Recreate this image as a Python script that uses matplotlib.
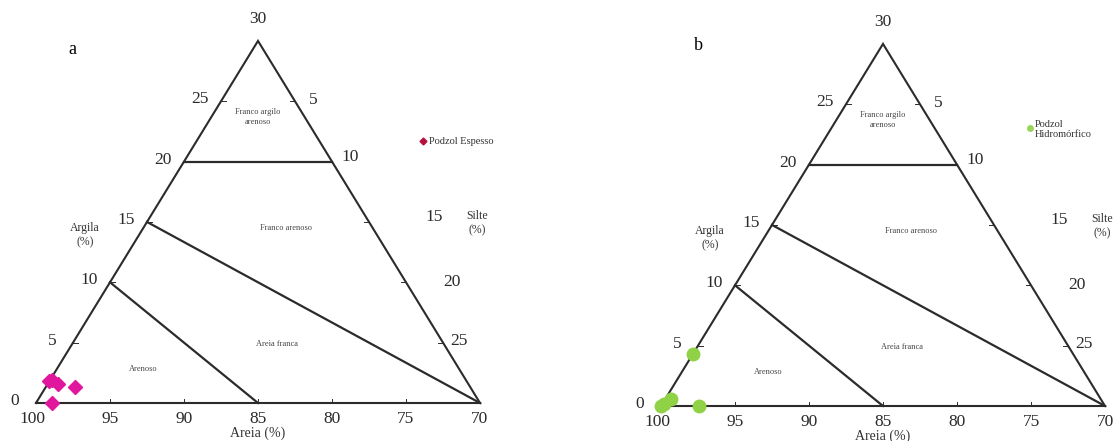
import matplotlib
matplotlib.use("Agg")
import matplotlib.pyplot as plt

plt.rcParams['font.family'] = ['Liberation Serif', 'DejaVu Serif']

# Texture triangle (sand 70-100 %, clay 0-30 %, silt 0-30 %)
clay_ticks = [0, 5, 10, 15, 20, 25, 30]
sand_ticks = [100, 95, 90, 85, 80, 75, 70]
silt_ticks = [5, 10, 15, 20, 25]

# Samples: clay (%) and silt (%); sand = 100 - clay - silt
espesso_clay = [1.8, 1.9, 1.6, 1.3, 0.0]
espesso_silt = [0.0, 0.1, 0.7, 2.0, 1.1]

hidro_clay = [4.3, 0.6, 0.2, 0.0, 0.0]
hidro_silt = [0.0, 0.4, 0.1, 0.0, 2.6]

region_names = ["Franco argilo\narenoso", "Franco arenoso", "Areia franca", "Arenoso"]


def tern(clay, silt):
    """Cartesian coordinates of a (clay, silt) pair inside the triangle."""
    if hasattr(clay, "__len__"):
        return ([s + c / 2 for c, s in zip(clay, silt)], list(clay))
    return silt + clay / 2, clay


LINE = "#2b2b2b"
TXT = "#2a2a2a"
PXX, PXY = 14.8, 12.07  # pixels per percent along x and y


def draw_panel(ax, clay, silt, color, marker, ms):
    # outer triangle
    xs, ys = tern([0, 0, 30, 0], [0, 30, 0, 0])
    ax.plot(xs, ys, color=LINE, lw=1.5, solid_joinstyle="miter")
    # class boundaries
    for (c0, s0), (c1, s1) in [((20, 0), (20, 10)), ((15, 0), (0, 30)), ((10, 0), (0, 15))]:
        x0, y0 = tern(c0, s0)
        x1, y1 = tern(c1, s1)
        ax.plot([x0, x1], [y0, y1], color=LINE, lw=1.6)

    dx, dy = 1 / PXX, 1 / PXY
    # clay axis (left edge)
    for c in clay_ticks:
        x, y = tern(c, 0)
        if 0 < c < 30:
            ax.plot([x, x + 5 * dx], [y, y], color=LINE, lw=0.7)
        if c == 30:
            ax.text(x, y + 22 * dy, str(c), ha="center", va="center", fontsize=12.5, color=TXT)
        else:
            ax.text(x - 21 * dx, y + 2 * dy, str(c), ha="center", va="center", fontsize=12.5, color=TXT)
    # sand axis (bottom edge)
    for sd in sand_ticks:
        x, y = tern(0, 100 - sd)
        if 70 < sd < 100:
            ax.plot([x, x], [y, y + 4 * dy], color=LINE, lw=0.7)
        off = -4 * dx if sd == 100 else 0
        ax.text(x + off, y - 16 * dy, str(sd), ha="center", va="center", fontsize=12.5, color=TXT)
    # silt axis (right edge)
    silt_label_pos = {5: (18.7, 25.1), 10: (21.2, 20.4), 15: (26.9, 15.4),
                      20: (28.1, 10.0), 25: (28.6, 5.1)}
    for s in silt_ticks:
        x, y = tern(30 - s, s)
        ax.plot([x, x - 5 * dx], [y, y], color=LINE, lw=0.7)
        lx, ly = silt_label_pos[s]
        ax.text(lx, ly, str(s), ha="center", va="center", fontsize=12.5, color=TXT)

    ax.text(3.3, 13.9, "Argila\n(%)", ha="center", va="center", fontsize=8.5,
            color="#333", linespacing=1.3)
    ax.text(29.8, 14.9, "Silte\n(%)", ha="center", va="center", fontsize=8.5,
            color="#333", linespacing=1.3)
    ax.text(15.0, -2.5, "Areia (%)", ha="center", va="center", fontsize=10, color="#333")

    region_pos = [(15.0, 23.7), (16.9, 14.5), (16.3, 4.9), (7.25, 2.8)]
    for name, (x, y) in zip(region_names, region_pos):
        ax.text(x, y, name, ha="center", va="center", fontsize=6, color="#444", linespacing=1.2)

    px, py = tern(clay, silt)
    ax.plot(px, py, linestyle="none", marker=marker, ms=ms, color=color, mec=color, zorder=5)

    return dx, dy


fig = plt.figure(figsize=(11.19, 4.41), dpi=100)
fig.patch.set_facecolor("white")

# left panel: triangle origin at pixel (36, 403)
axl = fig.add_axes([0, 0, 559 / 1119, 1])
axl.set_xlim(-36 / PXX, (559 - 36) / PXX)
axl.set_ylim((403 - 441) / PXY, 403 / PXY)
axl.axis("off")
dx, dy = draw_panel(axl, espesso_clay, espesso_silt, "#e0169c", "D", 7.5)
axl.text((72 - 36) / PXX, (403 - 50) / PXY, "a", ha="center", va="center", fontsize=13)
lx, ly = (423 - 36) / PXX, (403 - 141) / PXY
axl.plot([lx], [ly], marker="D", ms=3.5, color="#b8103c", linestyle="none")
axl.text(lx + 6 * dx, ly, "Podzol Espesso", ha="left", va="center", fontsize=7.5, color="#333")

# right panel: triangle origin at pixel (661, 406)
axr = fig.add_axes([559 / 1119, 0, 560 / 1119, 1])
axr.set_xlim((559 - 661) / PXX, (1119 - 661) / PXX)
axr.set_ylim((406 - 441) / PXY, 406 / PXY)
axr.axis("off")
dx, dy = draw_panel(axr, hidro_clay, hidro_silt, "#8fd246", "o", 9)
axr.text((698 - 661) / PXX, (406 - 45) / PXY, "b", ha="center", va="center", fontsize=13)
lx, ly = (1030 - 661) / PXX, (406 - 128) / PXY
axr.plot([lx], [ly], marker="o", ms=4, color="#9ad65a", linestyle="none")
axr.text(lx + 5 * dx, ly + 8 * dy, "Podzol\nHidromórfico", ha="left", va="top", fontsize=7.5,
         color="#333", linespacing=1.1)

fig.savefig("out.png", dpi=100, facecolor="white")
